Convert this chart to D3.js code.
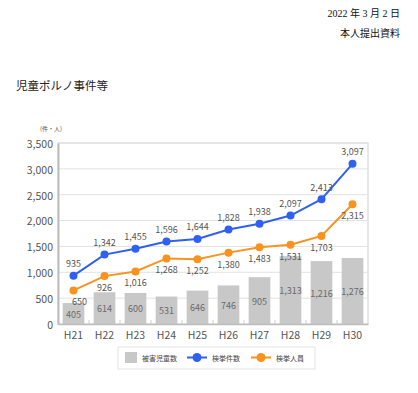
<!DOCTYPE html>
<html>
<head>
<meta charset="utf-8">
<script src="https://d3js.org/d3.v7.min.js"></script>
<style>
  html, body { margin: 0; padding: 0; background: #fff; }
  svg { display: block; }
</style>
</head>
<body>
<svg id="chart" width="418" height="393"></svg>
<script>
// ── Daten ─────────────────────────────────────────────
const years    = ['H21','H22','H23','H24','H25','H26','H27','H28','H29','H30'];
const victims  = [405, 614, 600, 531, 646, 746, 905, 1313, 1216, 1276];   // 被害児童数
const cases    = [935, 1342, 1455, 1596, 1644, 1828, 1938, 2097, 2413, 3097]; // 検挙件数
const persons  = [650, 926, 1016, 1268, 1252, 1380, 1483, 1531, 1703, 2315];  // 検挙人員
const yTicks   = [0, 500, 1000, 1500, 2000, 2500, 3000, 3500];

const BLUE   = '#3060f0';
const ORANGE = '#f7931e';
const BAR    = '#c8c8c8';
const JP     = '"Noto Sans CJK JP", "Noto Sans", sans-serif';
const fmt    = d3.format(',');

const svg = d3.select('#chart');

// ── Kopfzeilen ────────────────────────────────────────
const serif = '"Liberation Serif", "Noto Sans CJK JP", serif';
svg.append('text').attr('x', 400).attr('y', 17).attr('text-anchor', 'end')
  .attr('font-family', serif).attr('font-size', 10).attr('fill', '#111')
  .text('2022 年 3 月 2 日');
svg.append('text').attr('x', 400).attr('y', 37).attr('text-anchor', 'end')
  .attr('font-family', serif).attr('font-size', 10).attr('fill', '#111')
  .text('本人提出資料');
svg.append('text').attr('x', 16).attr('y', 90)
  .attr('font-family', JP).attr('font-size', 11.5).attr('fill', '#222')
  .text('児童ポルノ事件等');

// ── Skalen ────────────────────────────────────────────
const m = { left: 58, right: 368, top: 143, bottom: 324 };
const x = d3.scaleBand().domain(years).range([m.left, m.right]).paddingInner(0.3).paddingOuter(0.15);
const y = d3.scaleLinear().domain([0, 3500]).range([m.bottom, m.top]);
const cx = d => x(d) + x.bandwidth() / 2;

// Rahmen + Gitter
svg.append('rect')
  .attr('x', m.left).attr('y', m.top)
  .attr('width', m.right - m.left).attr('height', m.bottom - m.top)
  .attr('fill', 'none').attr('stroke', '#d8d8d8').attr('stroke-width', 1.2);

svg.append('g').selectAll('line')
  .data(yTicks.slice(1)).join('line')
    .attr('x1', m.left).attr('x2', m.right)
    .attr('y1', d => y(d)).attr('y2', d => y(d))
    .attr('stroke', '#e2e2e2').attr('stroke-width', 1);

// Y-Achse
const yAxis = svg.append('g')
  .attr('transform', `translate(${m.left},0)`)
  .call(d3.axisLeft(y).tickValues(yTicks).tickFormat(fmt).tickSize(0).tickPadding(5));
yAxis.select('.domain').attr('stroke', '#bdbdbd').attr('stroke-width', 2);
yAxis.selectAll('text').attr('font-family', JP).attr('font-size', 10.5).attr('fill', '#555')
  .attr('dy', '0.42em');

svg.append('text').attr('x', 51).attr('y', 131).attr('text-anchor', 'middle')
  .attr('font-family', JP).attr('font-size', 6).attr('fill', '#555')
  .text('(件・人)');

// Balken
svg.append('g').selectAll('rect')
  .data(years).join('rect')
    .attr('x', d => x(d)).attr('width', x.bandwidth())
    .attr('y', (d, i) => y(victims[i]))
    .attr('height', (d, i) => y(0) - y(victims[i]))
    .attr('fill', BAR);

// X-Achse
const xAxis = svg.append('g')
  .attr('transform', `translate(0,${m.bottom})`)
  .call(d3.axisBottom(x).tickSize(0).tickPadding(8));
xAxis.select('.domain').attr('stroke', '#bdbdbd').attr('stroke-width', 1.5);
xAxis.selectAll('text').attr('font-family', JP).attr('font-size', 10.5).attr('fill', '#555');

// Trennstriche zwischen Kategorien
svg.append('g').selectAll('line')
  .data(years.slice(1)).join('line')
    .attr('x1', d => x(d) - x.step() * x.paddingInner() / 2)
    .attr('x2', d => x(d) - x.step() * x.paddingInner() / 2)
    .attr('y1', m.bottom - 4).attr('y2', m.bottom)
    .attr('stroke', '#cfcfcf');

// Balken-Beschriftung
svg.append('g').selectAll('text')
  .data(years).join('text')
    .attr('x', d => cx(d))
    .attr('y', (d, i) => (y(victims[i]) + y(0)) / 2 + 4)
    .attr('text-anchor', 'middle')
    .attr('font-family', JP).attr('font-size', 9).attr('fill', '#6a6a6a')
    .text((d, i) => fmt(victims[i]));

// Linien
const line = vals => d3.line().x((d, i) => cx(years[i])).y(d => y(d))(vals);

function drawSeries(vals, color, dy) {
  svg.append('path')
    .attr('d', line(vals))
    .attr('fill', 'none').attr('stroke', color).attr('stroke-width', 2);
  svg.append('g').selectAll('circle')
    .data(vals).join('circle')
      .attr('cx', (d, i) => cx(years[i])).attr('cy', d => y(d))
      .attr('r', 4).attr('fill', color);
  svg.append('g').selectAll('text')
    .data(vals).join('text')
      .attr('x', (d, i) => cx(years[i]) + (i === 0 && dy > 0 ? 6 : 0))
      .attr('y', d => y(d) + dy)
      .attr('text-anchor', 'middle')
      .attr('font-family', JP).attr('font-size', 9).attr('fill', '#555')
      .text(d => fmt(d));
}
drawSeries(persons, ORANGE, 15);
drawSeries(cases, BLUE, -8.5);

// ── Legende ───────────────────────────────────────────
const lg = svg.append('g');
lg.append('rect').attr('x', 118).attr('y', 347).attr('width', 197).attr('height', 22)
  .attr('fill', '#fff').attr('stroke', '#e3e3e3');
lg.append('rect').attr('x', 125).attr('y', 352).attr('width', 12).attr('height', 11).attr('fill', BAR);
lg.append('text').attr('x', 142).attr('y', 360.5)
  .attr('font-family', JP).attr('font-size', 7).attr('fill', '#444').text('被害児童数');

[[187, BLUE, '検挙件数'], [251, ORANGE, '検挙人員']].forEach(([lx, c, t]) => {
  lg.append('line').attr('x1', lx).attr('x2', lx + 20).attr('y1', 357.5).attr('y2', 357.5)
    .attr('stroke', c).attr('stroke-width', 2);
  lg.append('circle').attr('cx', lx + 10).attr('cy', 357.5).attr('r', 4.5).attr('fill', c);
  lg.append('text').attr('x', lx + 25).attr('y', 360.5)
    .attr('font-family', JP).attr('font-size', 7).attr('fill', '#444').text(t);
});
</script>
</body>
</html>
